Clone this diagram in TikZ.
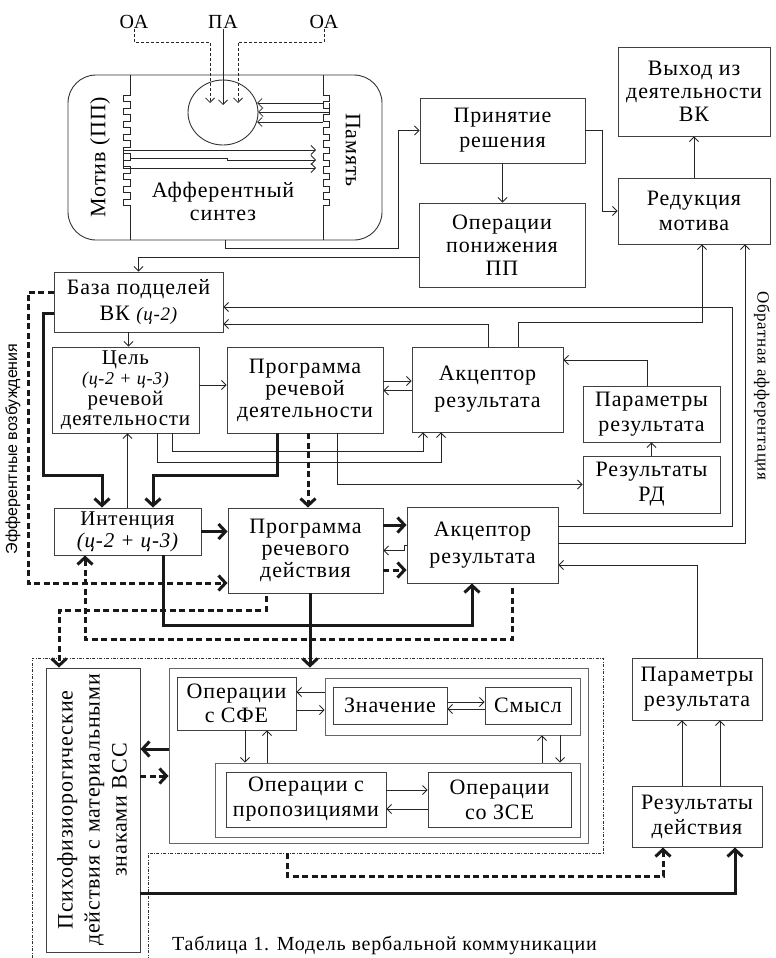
\documentclass[tikz,border=0pt]{standalone}
\usepackage{fontspec}
\setmainfont{Liberation Serif}[LetterSpace=4]
\newfontfamily\sansf{Liberation Sans}
\usetikzlibrary{arrows.meta,shapes.geometric}
\newcommand\mfs{\fontsize{22}{23}\selectfont}
\begin{document}
\begin{tikzpicture}[x=1pt,y=-1pt,
  box/.style={draw=black!75,line width=0.9pt,inner sep=0pt,align=center,font=\mfs},
  frm/.style={draw=black!60,line width=0.9pt,inner sep=0pt},
  ln/.style={draw=black!85,line width=0.8pt},
  arr/.style={ln,-{Straight Barb[length=4.5pt,width=9pt]}},
  thin dash/.style={dash pattern=on 3pt off 2pt},
  thk/.style={draw=black!90,line width=3pt,-{Straight Barb[length=7pt,width=15pt]}},
  thkd/.style={thk,dash pattern=on 6pt off 3.5pt},
  lbl/.style={inner sep=0pt,align=center,font=\mfs},
]
\useasboundingbox (0,0) rectangle (776,958);
\clip (0,0) rectangle (776,958);

% ---------- afferent synthesis ----------
\node[draw=black!80,line width=0.9pt,rounded corners=28pt,minimum width=314,minimum height=165,inner sep=0pt] (af) at (225,157.5) {};
\draw[ln] (130,75) foreach \i in {0,...,8}{ -- (130,{95+13*\i}) -- (123,{95+13*\i}) -- (123,{101.5+13*\i}) -- (130,{101.5+13*\i}) } -- (130,240);
\draw[ln] (323,75) foreach \i in {0,...,8}{ -- (323,{95+13*\i}) -- (329,{95+13*\i}) -- (329,{101.5+13*\i}) -- (323,{101.5+13*\i}) } -- (323,240);
\node[draw=black!80,line width=0.9pt,ellipse,minimum width=70,minimum height=65,inner sep=0pt] (circ) at (223,112.5) {};

\node[lbl,font=\fontsize{20}{20}\selectfont] (oa1) at (134,22) {ОА};
\node[lbl,font=\fontsize{20}{20}\selectfont] (pa) at (223,22) {ПА};
\node[lbl,font=\fontsize{20}{20}\selectfont] (oa2) at (324,22) {ОА};
\draw[arr,thin dash] (oa1.south) -- (134,42) -- (210,42) -- (210,103);
\draw[arr] (pa.south) -- (223,105);
\draw[arr,thin dash] (oa2.south) -- (324,42) -- (238,42) -- (238,103);

\draw[arr] (323,103) -- (257,103);
\draw[arr] (329,103) -- (329,112) -- (258,112);
\draw[arr] (323,122) -- (257,122);
\draw[arr] (123,150) -- (316,150);
\draw[arr] (130,158) -- (227,158) -- (227,160) -- (316,160);
\draw[arr] (123,150) -- (123,168) -- (316,168);

\node[lbl,rotate=90] (motiv) at (100,157) {Мотив (ПП)};
\node[lbl,rotate=-90] (pam) at (353,150) {Память};
\node[lbl] (afs) at (223,201) {Афферентный\\синтез};

% ---------- top right ----------
\node[box,minimum width=165,minimum height=65,font=\fontsize{22}{25}\selectfont] (prin) at (502.5,130.5) {Принятие\\решения};
\node[box,minimum width=166,minimum height=84] (opp) at (502,245) {Операции\\понижения\\ПП};
\node[box,minimum width=152,minimum height=89] (vyh) at (694,91.5) {Выход из\\деятельности\\ВК};
\node[box,minimum width=152,minimum height=66,font=\fontsize{22}{25}\selectfont] (red) at (694,211) {Редукция\\мотива};
\coordinate (c257) at (0,257);

\draw[arr] (af.south) -- (225,248) -| (398,130.5) -- (prin.west);
\draw[arr] (prin.south) -- (prin.south |- opp.north);
\draw[arr] (prin.east) -- ++(17,0) |- (red.west);
\draw[arr] (red.north) -- (red.north |- vyh.south);

% ---------- middle ----------
\node[box,minimum width=169,minimum height=60,font=\fontsize{22}{26}\selectfont] (baza) at (138.5,302) {База подцелей\\ВК {\fontsize{19}{19}\selectfont\itshape(ц-2)}};
\node[box,minimum width=147,minimum height=86,font=\fontsize{21}{20.5}\selectfont] (cel) at (125.5,390) {Цель\\{\fontsize{18}{18}\selectfont\itshape(ц-2 + ц-3)}\\речевой\\деятельности};
\node[box,minimum width=156,minimum height=86,font=\fontsize{22}{22}\selectfont] (prd) at (305,390) {Программа\\речевой\\деятельности};
\node[box,minimum width=151,minimum height=85,font=\fontsize{22}{27}\selectfont] (ak1) at (487.5,389.5) {Акцептор\\результата};
\node[box,minimum width=137,minimum height=56,font=\fontsize{22}{25}\selectfont] (par1) at (651.5,414) {Параметры\\результата};
\node[box,minimum width=137,minimum height=57,font=\fontsize{22}{25}\selectfont] (rrd) at (651.5,484.5) {Результаты\\РД};
\node[box,minimum width=147,minimum height=47,font=\fontsize{21}{22}\selectfont] (int) at (127.5,531.5) {Интенция\\{\itshape(ц-2 + ц-3)}};
\node[box,minimum width=155,minimum height=85,font=\fontsize{22}{22}\selectfont] (prda) at (305.5,550.5) {Программа\\речевого\\действия};
\node[box,minimum width=151,minimum height=76,font=\fontsize{22}{27}\selectfont] (ak2) at (482.5,545) {Акцептор\\результата};

\draw[arr] (opp.west |- c257) -| (baza.north);
\draw[arr] ([xshift=-10pt]baza.south) -- ([xshift=-10pt]baza.south |- cel.north);
\draw[arr] ([yshift=5pt]cel.east) -- ([yshift=5pt]cel.east -| prd.west);
\draw[arr] ([yshift=9pt]prd.east) -- ([yshift=9pt]prd.east -| ak1.west);
\draw[arr] ([yshift=-1pt]ak1.west) -- ([yshift=-1pt]ak1.west -| prd.east);
\draw[arr] ([xshift=30.5pt]ak1.north) -- ++(0,-24) -| ([xshift=8pt]red.south);
\draw[arr] ([xshift=0.5pt]ak1.north) |- ([yshift=-22pt]baza.east);
\draw[arr] ([yshift=19pt]ak2.east) -| (732,307) -- ([yshift=-5pt]baza.east);
\draw[arr] ([yshift=2pt]ak2.east) -| ([xshift=51pt]red.south);
\draw[arr] ([xshift=-4.5pt]par1.north) |- ([yshift=29.5pt]ak1.east);
\draw[arr] (rrd.north) -- (rrd.north |- par1.south);
\draw[arr] ([xshift=32pt]prd.south) |- (rrd.west);
\draw[arr] ([xshift=46.5pt]cel.south) -- ++(0,18) -| ([xshift=-64.5pt]ak1.south);
\draw[arr] ([xshift=31.5pt]cel.south) -- ++(0,29) -| ([xshift=-46.5pt]ak1.south);
\draw[arr] (int.north) -- (int.north |- cel.south);

\draw[thk] ([yshift=-11pt]baza.west) -| (43,475) -| ([xshift=-25.5pt]int.north);
\draw[thk] ([xshift=-28pt]prd.south) -- ++(0,42) -| ([xshift=25.5pt]int.north);
\draw[thkd] ([xshift=3pt]prd.south) -- ([xshift=3pt]prd.south |- prda.north);
\draw[thkd] ([yshift=10pt]baza.west) -| (28,583) -- ([yshift=-32.5pt]prda.west);
\draw[thk] (int.east) -- (int.east -| prda.west);
\draw[thk] ([yshift=25.5pt]prda.east) -- ([yshift=25.5pt]prda.east -| ak2.west);
\draw[arr] (ak2.west) -- ++(-2,0) |- (prda.east);
\draw[thkd] ([yshift=-19.5pt]prda.east) -- ([yshift=-19.5pt]prda.east -| ak2.west);
\draw[thk] ([xshift=35.5pt]int.south) -- ++(0,70) -| ([xshift=-10.5pt]ak2.south);
\draw[thkd] ([xshift=29.5pt,yshift=-5pt]ak2.south) -- ++(0,51) -| ([xshift=-42.5pt]int.south);

% ---------- bottom ----------
\draw[black!80,line width=0.7pt,dash pattern=on 3pt off 1.5pt on 0.8pt off 1.5pt] (32,958) -- (32,658) -- (603,658) -- (603,853) -- (148,853) -- (148,958);
\node[box,minimum width=94,minimum height=284] (psy) at (93,810) {};
\node[lbl,rotate=90,font=\fontsize{22}{27}\selectfont] (psyt) at (92,810) {Психофизиорогические\\действия с материальными\\знаками ВСС};
\node[frm,minimum width=419,minimum height=175] (inner) at (378.5,755.5) {};
\node[box,minimum width=119,minimum height=53,font=\fontsize{22}{24}\selectfont] (sfe) at (236.5,703.5) {Операции\\с СФЕ};
\node[frm,minimum width=255,minimum height=57] (znout) at (452.5,706.5) {};
\node[box,minimum width=114,minimum height=37] (zn) at (390,705.5) {Значение};
\node[box,minimum width=86,minimum height=37] (sm) at (528,705.5) {Смысл};
\node[frm,minimum width=365,minimum height=74] (propout) at (397.5,800) {};
\node[box,minimum width=160,minimum height=55,font=\fontsize{22}{25}\selectfont] (prop) at (306,799.5) {Операции с\\пропозициями};
\node[box,minimum width=143,minimum height=55,font=\fontsize{22}{25}\selectfont] (zse) at (499.5,799.5) {Операции\\со ЗСЕ};
\node[box,minimum width=130,minimum height=62,font=\fontsize{22}{25}\selectfont] (par2) at (697,689) {Параметры\\результата};
\node[box,minimum width=130,minimum height=61,font=\fontsize{22}{25}\selectfont] (resd) at (697,816.5) {Результаты\\действия};
\coordinate (dd) at (287,853);

\draw[thkd] ([xshift=-39.5pt,yshift=-3pt]prda.south) -- ++(0,14) -| ([xshift=-34pt]psy.north);
\draw[thk] ([xshift=4.5pt]prda.south) -- ([xshift=4.5pt]prda.south |- inner.north);
\draw[thk] ([yshift=6.5pt]inner.west) -- ([yshift=6.5pt]inner.west -| psy.east);
\draw[thkd] ([yshift=-20.5pt]inner.west -| psy.east) -- ([yshift=-20.5pt]inner.west);
\draw[arr] ([yshift=14.5pt]znout.west) -- ([yshift=14.5pt]znout.west -| sfe.east);
\draw[arr] ([yshift=-3.5pt]znout.west -| sfe.east) -- ([yshift=-3.5pt]znout.west);
\draw[arr] ([yshift=3.5pt]zn.east) -- ([yshift=3.5pt]zn.east -| sm.west);
\draw[arr] ([yshift=-3.5pt]sm.west) -- ([yshift=-3.5pt]sm.west -| zn.east);
\draw[arr] ([xshift=8.5pt]sfe.south) -- ([xshift=8.5pt]sfe.south |- propout.north);
\draw[arr] ([xshift=30.5pt]sfe.south |- propout.north) -- ([xshift=30.5pt]sfe.south);
\draw[arr] ([xshift=89.5pt]znout.south |- propout.north) -- ([xshift=89.5pt]znout.south);
\draw[arr] ([xshift=107.5pt]znout.south) -- ([xshift=107.5pt]znout.south |- propout.north);
\draw[arr] ([yshift=9.5pt]prop.east) -- ([yshift=9.5pt]prop.east -| zse.west);
\draw[arr] ([yshift=-9.5pt]zse.west) -- ([yshift=-9.5pt]zse.west -| prop.east);
\draw[arr] ([xshift=-15pt]resd.north) -- ([xshift=-15pt]resd.north |- par2.south);
\draw[arr] ([xshift=23pt]resd.north) -- ([xshift=23pt]resd.north |- par2.south);
\draw[arr] (par2.north) |- ([yshift=-20pt]ak2.east);
\draw[thkd] (dd) -- (287,876) -| ([xshift=-34pt]resd.south);
\draw[thk] ([yshift=-83pt]psy.east) -| ([xshift=38pt]resd.south);

% ---------- side labels, caption ----------
\node[lbl,rotate=90,font=\sansf\fontsize{16}{16}\selectfont] (eff) at (13,449) {Эфферентные возбуждения};
\node[lbl,rotate=-90,font=\fontsize{17}{17}\selectfont] (obr) at (762,386) {Обратная афферентация};
\node[lbl,anchor=north west,font=\fontsize{20}{20}\selectfont] (cap) at (172,936) {Таблица 1. Модель вербальной коммуникации};
\end{tikzpicture}
\end{document}
